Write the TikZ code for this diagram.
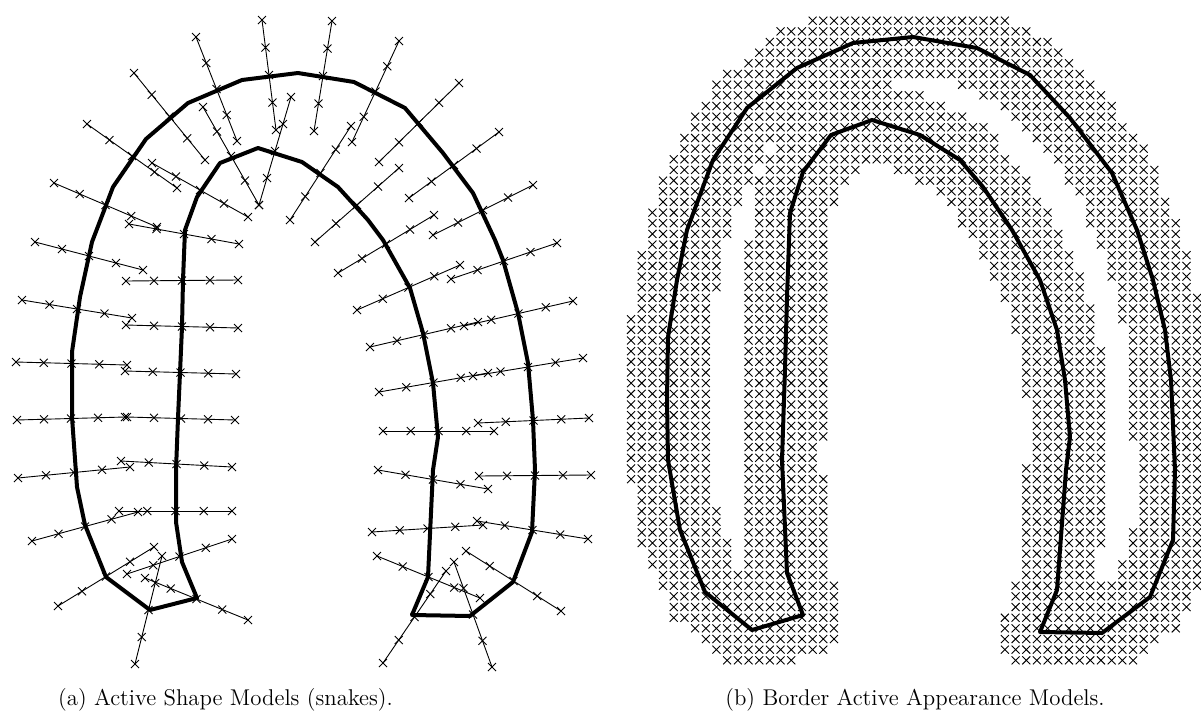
\documentclass[tikz,border=0pt]{standalone}
\usetikzlibrary{calc}
\makeatletter
\newcount\gi \newcount\gj \newcount\px \newcount\py
\newcount\ux \newcount\uy \newcount\wx \newcount\wy
\newcount\dotp \newcount\lensq \newcount\crs \newcount\dsq
\newif\ifnear
\def\Dsq{164025}
\def\polyB{(7050,5920)(6800,5300)(6680,4600)(6670,4000)(6680,3370)(6770,2800)(6870,2300)(7130,1600)(7470,1080)(7970,680)(8530,430)(9130,370)(9770,480)(10300,750)(10700,1180)(11120,1730)(11370,2300)(11530,2800)(11650,3300)(11710,3800)(11750,4700)(11730,5400)(11500,5970)(11020,6330)(10400,6320)(10570,5900)(10660,4700)(10700,4370)(10650,3800)(10570,3300)(10400,2800)(10120,2300)(9830,1870)(9600,1600)(9200,1350)(8720,1200)(8310,1350)(8030,1720)(7900,2130)(7870,2970)(7850,3700)(7820,4600)(7870,5730)(8030,6150)(7520,6300)(7050,5920)}
\def\checkseg#1#2#3#4{%
  \ux=\numexpr#3-#1\relax \uy=\numexpr#4-#2\relax
  \wx=\numexpr\px-#1\relax \wy=\numexpr\py-#2\relax
  \dotp=\numexpr\wx*\ux+\wy*\uy\relax
  \lensq=\numexpr\ux*\ux+\uy*\uy\relax
  \ifnum\dotp<1
    \dsq=\numexpr\wx*\wx+\wy*\wy\relax
  \else\ifnum\dotp<\lensq
    \crs=\numexpr\wx*\uy-\wy*\ux\relax
    \dsq=\numexpr\crs*\crs/\lensq\relax
  \else
    \dsq=\numexpr(\px-#3)*(\px-#3)+(\py-#4)*(\py-#4)\relax
  \fi\fi
  \ifnum\dsq<\Dsq\relax\neartrue\fi}
\def\seg@(#1,#2)(#3,#4)#5\@nil{%
  \checkseg{#1}{#2}{#3}{#4}%
  \let\seg@next\relax
  \ifnear\else\ifx\relax#5\relax\else\def\seg@next{\seg@(#3,#4)#5\@nil}\fi\fi
  \seg@next}
\def\testpoint{\nearfalse\expandafter\seg@\polyB\@nil}
\def\gpt#1#2{\pgfqpoint{\dimexpr0.05pt*\numexpr#1\relax\relax}{\dimexpr-0.05pt*\numexpr#2\relax\relax}}
\def\addcross{%
  \pgfpathmoveto{\gpt{\px-40}{\py-40}}\pgfpathlineto{\gpt{\px+40}{\py+40}}%
  \pgfpathmoveto{\gpt{\px-40}{\py+40}}\pgfpathlineto{\gpt{\px+40}{\py-40}}}
\def\drawgrid{%
  \gj=0
  \@whilenum\gj<61\do{%
    \gi=0
    \py=\numexpr(2070+1066*\gj)/10\relax
    \@whilenum\gi<54\do{%
      \px=\numexpr(63100+1068*\gi)/10\relax
      \testpoint
      \ifnear\addcross\fi
      \advance\gi by 1 }%
    \pgfusepath{stroke}%
    \advance\gj by 1 }}
\makeatother
\newcommand\prof[4]{%
  \draw[profline] (#1,#2) -- (#3,#4);
  \foreach \t in {0,0.25,0.5,0.75,1}{%
    \draw[xmk] ($(#1,#2)!\t!(#3,#4)$) +(-4,-4) -- +(4,4) +(-4,4) -- +(4,-4);}}
\begin{document}
\begin{tikzpicture}[x=0.5pt,y=-0.5pt,
  contour/.style={line width=2pt, line join=round},
  profline/.style={line width=0.45pt},
  xmk/.style={line width=0.45pt},
  caption/.style={anchor=base, inner sep=0pt, font=\fontsize{11.4}{13.5}\selectfont}]
\useasboundingbox (0,0) rectangle (1201,713);
% ---------- panel (a): profiles ----------
% outer, left and top
\prof{262}{20}{276}{130}
\prof{196}{37}{237}{141}
\prof{134}{73}{205}{160}
\prof{87}{124}{177}{188}
\prof{54}{183}{157}{227}
\prof{35}{242}{143}{270}
\prof{22}{300}{132}{318}
\prof{16}{362}{127}{365}
\prof{17}{420}{125}{417}
\prof{18}{478}{130}{467}
\prof{32}{541}{138}{512}
\prof{58}{606}{154}{547}
\prof{135}{664}{162}{556}
\prof{145}{578}{248}{620}
% outer, right
\prof{332}{21}{314}{131}
\prof{399}{41}{352}{142}
\prof{459}{83}{379}{162}
\prof{499}{132}{409}{198}
\prof{533}{185}{433}{235}
\prof{557}{243}{451}{279}
\prof{573}{301}{464}{326}
\prof{583}{358}{473}{376}
\prof{589}{418}{478}{423}
\prof{591}{475}{479}{476}
\prof{588}{539}{477}{521}
\prof{561}{611}{466}{551}
\prof{492}{667}{454}{562}
\prof{383}{663}{446}{571}
% inner
\prof{152}{163}{248}{217}
\prof{129}{224}{239}{244}
\prof{126}{281}{238}{280}
\prof{126}{325}{238}{328}
\prof{125}{371}{236}{374}
\prof{127}{417}{235}{420}
\prof{121}{461}{232}{467}
\prof{119}{511}{232}{511}
\prof{127}{574}{232}{539}
\prof{203}{107}{259}{205}
\prof{291}{97}{259}{205}
\prof{351}{126}{290}{220}
\prof{399}{168}{315}{242}
\prof{434}{215}{338}{273}
\prof{460}{265}{357}{310}
\prof{478}{322}{370}{347}
\prof{488}{373}{379}{392}
\prof{383}{431}{494}{431}
\prof{378}{470}{488}{489}
\prof{372}{532}{483}{525}
\prof{377}{556}{480}{598}
% contour (a)
\draw[contour] (106,577) -- (85,525) -- (77,487) -- (72,417) -- (72,352) -- (80,297)
  -- (92,242) -- (113,187) -- (146,139) -- (188,103) -- (242,80) -- (298,73)
  -- (354,82) -- (405,108) -- (443,153) -- (473,193) -- (495,240) -- (503,260)
  -- (518,313) -- (528,363) -- (533,420) -- (535,470) -- (532,532) -- (513,582)
  -- (470,616) -- (412,615) -- (428,577) -- (433,470) -- (438,437) -- (433,383)
  -- (423,333) -- (410,288) -- (383,240) -- (368,220) -- (338,187) -- (302,162)
  -- (258,148) -- (220,163) -- (197,197) -- (185,230) -- (183,280) -- (182,327)
  -- (180,373) -- (178,418) -- (176,470) -- (176,522) -- (182,562) -- (197,598)
  -- (150,610) -- cycle;
% ---------- panel (b) ----------
\begin{pgfscope}
\pgfsetlinewidth{0.45pt}
\drawgrid
\end{pgfscope}
\draw[contour] (705,592) -- (680,530) -- (668,460) -- (667,400) -- (668,337) -- (677,280)
  -- (687,230) -- (713,160) -- (747,108) -- (797,68) -- (853,43) -- (913,37)
  -- (977,48) -- (1030,75) -- (1070,118) -- (1112,173) -- (1137,230) -- (1153,280)
  -- (1165,330) -- (1171,380) -- (1175,470) -- (1173,540) -- (1150,597) -- (1102,633)
  -- (1040,632) -- (1057,590) -- (1066,470) -- (1070,437) -- (1065,380) -- (1057,330)
  -- (1040,280) -- (1012,230) -- (983,187) -- (960,160) -- (920,135) -- (872,120)
  -- (831,135) -- (803,172) -- (790,213) -- (787,297) -- (785,370) -- (782,460)
  -- (787,573) -- (803,615) -- (752,630) -- cycle;
% captions
\node[caption] (capa) at (225.5,705) {(a) Active Shape Models (snakes).};
\node[caption] (capb) at (915,705) {(b) Border Active Appearance Models.};
\end{tikzpicture}
\end{document}
